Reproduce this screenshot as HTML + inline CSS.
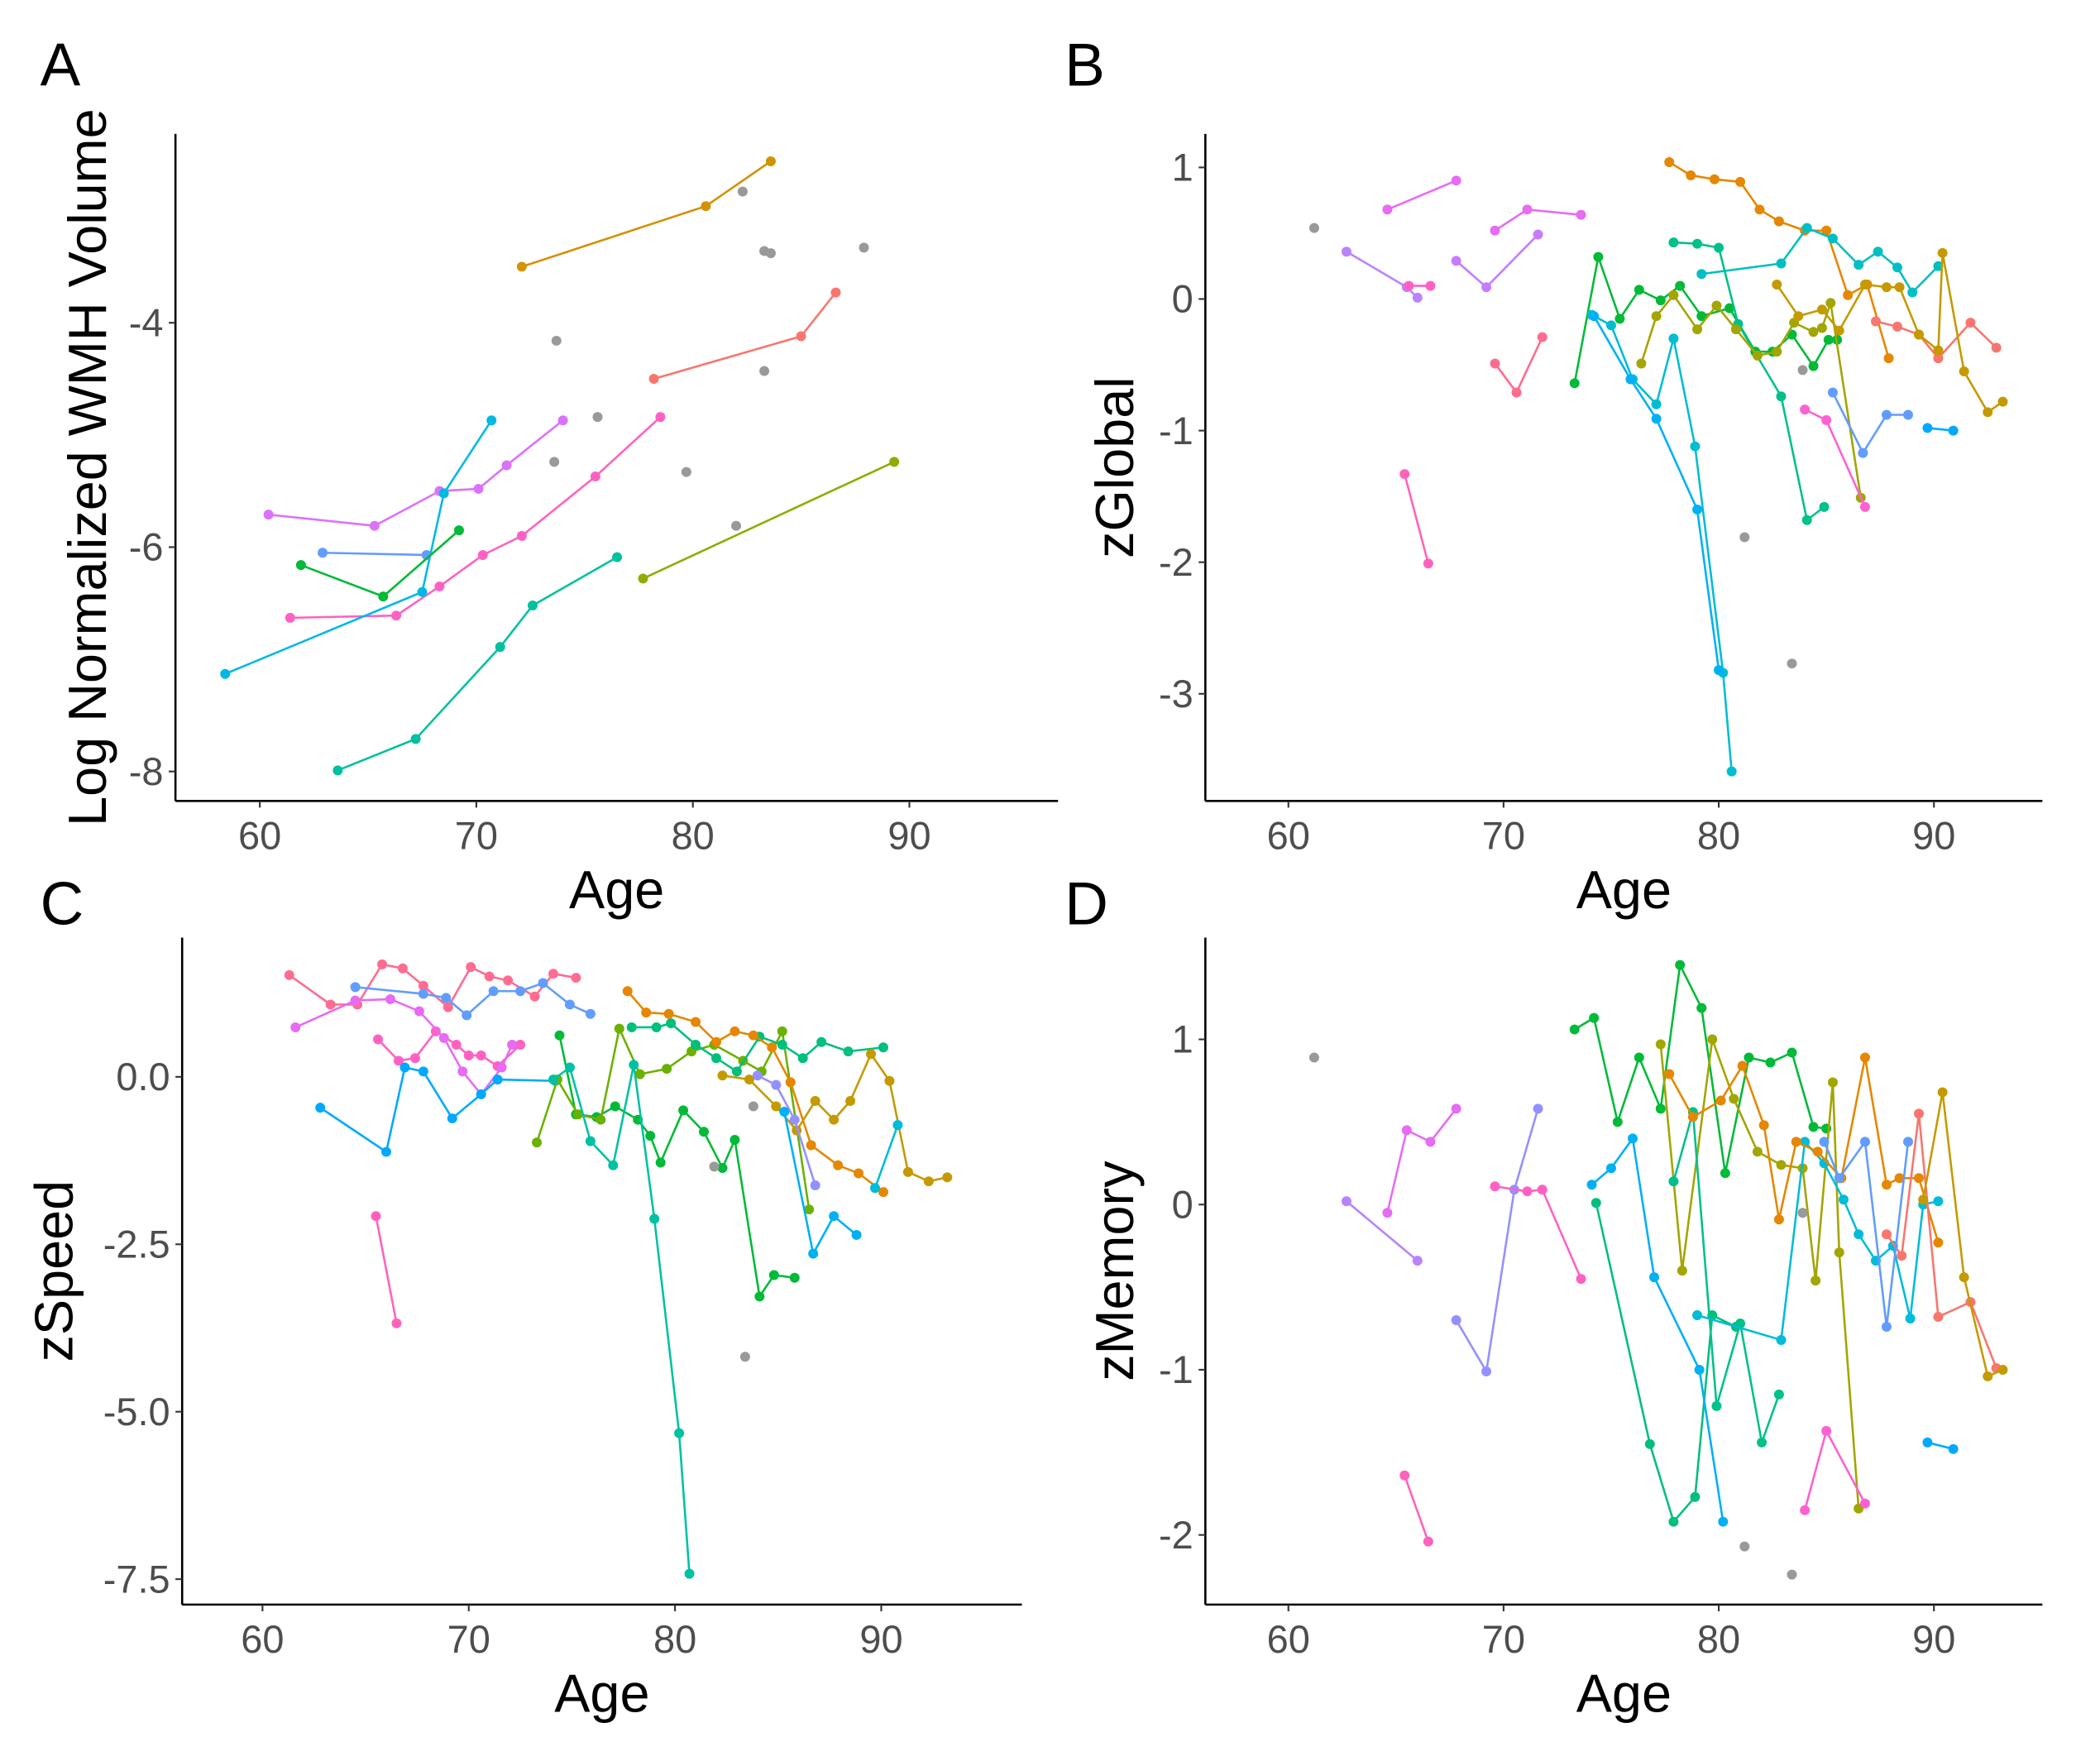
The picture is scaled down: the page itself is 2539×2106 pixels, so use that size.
<!DOCTYPE html>
<html><head><meta charset="utf-8"><style>
html,body{margin:0;padding:0;background:#fff;}
svg{display:block;font-family:"Liberation Sans",Arial,sans-serif;}
</style></head><body>
<svg id="fig" width="2539" height="2106" viewBox="0 0 1568 1300.6" preserveAspectRatio="none" xmlns="http://www.w3.org/2000/svg"></svg>
<script>
// ---------- Data ----------
// Panel A: Log Normalized WMH Volume
const aAges = [[72.1,80.6,83.6],[78.2,85.0,86.6],[77.7,89.3],[61.4,66.3,68.3,70.3,72.1,75.5,78.5],[60.4,65.3,68.3,70.1,71.4,74.0],[58.4,67.5,68.5,70.7],[62.9,67.7],[61.9,65.7,69.2],[63.6,67.2,71.1,72.6,76.5]];
const aVals = [[-3.5,-2.96,-2.56],[-4.5,-4.12,-3.73],[-6.28,-5.24],[-6.63,-6.61,-6.35,-6.07,-5.9,-5.37,-4.84],[-5.71,-5.81,-5.5,-5.48,-5.27,-4.87],[-7.13,-6.4,-5.52,-4.87],[-6.05,-6.07],[-6.16,-6.44,-5.85],[-7.99,-7.71,-6.89,-6.52,-6.09]];
const aCols = ["#D39200","#F8766D","#93AA00","#FF61C3","#DB72FB","#00B9E3","#619CFF","#00BA38","#00C19F"];
const aGreyAges = [82.3,83.3,83.6,87.9,73.7,75.6,73.6,83.3,79.7,82.0];
const aGreyVals = [-2.83,-3.36,-3.38,-3.33,-4.16,-4.84,-5.24,-4.43,-5.33,-5.81];

// Panel B: zGlobal
const bAges = [[64.6,67.8],[62.7,65.5,66.0],[65.6,66.6],[67.8,69.2,71.6],[69.6,71.1,73.6],[69.6,70.6,71.8],[65.4,66.5],
 [77.7,78.7,79.8,81.0,81.9,82.8,84.0,85.0,86.0,86.9,87.9],
 [79.2,82.9,84.1,85.3,86.5,87.4,88.3,89.0,90.2],
 [73.3,74.4,75.4,76.3,77.3,78.2,79.2,80.5,81.7,82.5,83.4,84.4,85.1,85.5],
 [77.9,79.0,80.0,80.9,82.9,84.1,84.9],
 [74.1,75.0,76.0,77.1,77.9,78.9,80.2,80.6],
 [74.2,75.9,77.1,79.0,80.0],
 [76.4,77.1,77.9,79.0,79.9,80.8,81.8,82.7,83.5,84.4,84.8,85.2,86.6],
 [85.3,86.7,87.8,88.8],[89.7,90.9],[84.0,85.0,86.8],
 [87.3,88.3,89.3,90.2,91.7,92.9],
 [82.7,83.7,84.8,85.6,86.8,87.8,88.4,89.3,90.2,90.4,91.4,92.5,93.2]];
const bVals = [[0.68,0.9],[0.36,0.09,0.01],[0.1,0.1],[0.29,0.09,0.49],[0.52,0.68,0.64],[-0.49,-0.71,-0.29],[-1.33,-2.01],
 [1.04,0.94,0.91,0.89,0.68,0.59,0.52,0.52,0.03,0.11,-0.45],
 [0.19,0.27,0.54,0.46,0.26,0.36,0.24,0.05,0.25],
 [-0.64,0.32,-0.15,0.07,-0.01,0.1,-0.13,-0.07,-0.4,-0.4,-0.27,-0.51,-0.31,-0.31],
 [0.43,0.42,0.39,-0.19,-0.74,-1.68,-1.58],
 [-0.12,-0.2,-0.61,-0.8,-0.3,-1.12,-2.84,-3.59],
 [-0.13,-0.61,-0.91,-1.6,-2.82],
 [-0.49,-0.13,0.03,-0.23,-0.05,-0.23,-0.43,-0.4,-0.18,-0.25,-0.22,-0.03,-1.51],
 [-0.71,-1.17,-0.88,-0.88],[-0.98,-1.0],[-0.84,-0.92,-1.58],
 [-0.17,-0.21,-0.27,-0.45,-0.18,-0.37],
 [0.11,-0.13,-0.08,-0.24,0.11,0.09,0.09,-0.27,-0.39,0.35,-0.55,-0.86,-0.78]];
const bCols = ["#E76BF3","#B983FF","#FF61C3","#C77CFF","#E76BF3","#FF6C91","#FF62BC","#E58700","#00BFC4","#00BA38","#00C08B","#00BDD0","#00B0F6","#A3A500","#619CFF","#00A9FF","#FD61D1","#F8766D","#C49A00"];
const bGreyAges = [61.2,81.2,83.4,83.9];
const bGreyVals = [0.54,-1.81,-2.77,-0.54];

// Panel C: zSpeed
const cAges = [[61.3,63.3,64.6,65.8,66.8,67.8,69.0,70.1,71.0,71.9,73.2,74.1,75.2],
 [65.6,66.6,67.4,68.4,69.4,70.0,70.6,71.4,72.5],
 [61.6,64.5,66.2,67.6,68.8,69.7,70.6,71.6,72.1],
 [64.5,67.8,68.9,69.9,71.2,72.5,73.6,74.9,75.9],
 [62.8,66.0,66.9,67.8,69.2,70.6,71.4,74.2],
 [65.5,66.5],
 [74.4,75.2,76.2,77.1,78.2,78.8,79.3,80.4,81.4,82.3,82.9,84.1,84.8,85.8],
 [73.3,74.3,75.3,76.4,77.3,78.3,79.6,80.8,81.9,83.3,84.2,85.2,86.5],
 [77.9,79.1,79.8,81.0,82.0,83.0,84.1,85.2,86.2,87.1,88.4,90.1],
 [74.1,74.9,75.9,77.0,78.0,79.0,80.2,80.7],
 [77.7,78.6,79.7,81.0,82.0,82.9,83.8,84.7,85.6,86.6,87.9,88.9,90.1],
 [82.3,83.6,84.9,85.9,86.8,87.7,88.5,89.5,90.4,91.3,92.3,93.2],
 [84.0,84.9,85.8,86.8],
 [85.3,86.7,87.7,88.8],
 [89.7,90.8]];
const cVals = [[1.52,1.08,1.08,1.68,1.62,1.36,1.04,1.64,1.5,1.44,1.2,1.54,1.48],
 [0.56,0.24,0.28,0.68,0.48,0.32,0.32,0.16,0.48],
 [0.74,1.14,1.16,0.98,0.58,0.08,-0.26,0.14,0.48],
 [1.34,1.24,1.18,0.92,1.28,1.28,1.4,1.08,0.94],
 [-0.46,-1.12,0.14,0.08,-0.62,-0.26,-0.04,-0.06],
 [-2.08,-3.68],
 [0.62,-0.56,-0.6,-0.44,-0.64,-0.88,-1.28,-0.5,-0.82,-1.36,-0.94,-3.28,-2.96,-3.0],
 [-0.98,-0.04,-0.56,-0.64,0.72,0.04,0.12,0.38,0.48,0.24,0.08,0.68,-1.98],
 [0.74,0.74,0.8,0.48,0.28,0.08,0.6,0.48,0.28,0.52,0.38,0.44],
 [-0.04,0.14,-0.96,-1.32,0.18,-2.12,-5.32,-7.42],
 [1.28,0.96,0.94,0.82,0.52,0.68,0.62,0.44,-0.08,-1.02,-1.32,-1.44,-1.72],
 [0.02,-0.04,-0.44,-0.8,-0.36,-0.64,-0.36,0.34,-0.06,-1.42,-1.56,-1.5],
 [0.02,-0.12,-0.64,-1.62],
 [-0.52,-2.64,-2.08,-2.36],
 [-1.66,-0.72]];
const cCols = ["#FF6C91","#FF61C3","#E76BF3","#619CFF","#00A9FF","#FF62BC","#00BA38","#6BB100","#00BF7D","#00C1A3","#E58700","#C49A00","#9590FF","#00B0F6","#00BCD8"];
const cGreyAges = [81.9,83.4,83.8];
const cGreyVals = [-1.34,-4.18,-0.44];

// Panel D: zMemory
const dAges = [[62.7,66.0],[64.6,65.5,66.6,67.8],[67.8,69.2,70.5,71.6],[69.6,71.1,71.8,73.6],[65.4,66.5],
 [73.3,74.2,75.3,76.3,77.3,78.2,79.2,80.3,81.4,82.4,83.4,84.4,85.0],
 [77.3,78.3,79.7,80.7,81.8,82.9,83.9,84.5,85.3,85.6,86.5],
 [74.3,76.8,77.9,78.9,79.7,80.8],
 [77.9,78.8,79.9,81.0,82.0,82.8],
 [74.1,75.0,76.0,77.0,79.1,80.2],
 [79.0,82.9,84.0,84.9,85.8,86.5,87.3,88.1,88.9,89.5,90.2],
 [77.7,78.8,80.1,81.1,82.1,82.8,83.6,84.6,85.7,86.8,87.8,88.4,89.3,90.2],
 [87.8,88.5,89.3,90.2,91.7,92.9],
 [89.5,90.4,91.4,92.5,93.2],
 [84.9,85.6,86.8,87.8,88.8],
 [89.7,90.9],
 [84.0,85.0,86.8]];
const dVals = [[0.02,-0.34],[-0.05,0.45,0.38,0.58],[-0.7,-1.01,0.09,0.58],[0.11,0.08,0.09,-0.45],[-1.64,-2.04],
 [1.06,1.13,0.5,0.89,0.58,1.45,1.19,0.19,0.89,0.86,0.92,0.47,0.46],
 [0.97,-0.4,1.0,0.64,0.32,0.24,0.22,-0.46,0.74,-0.29,-1.84],
 [0.01,-1.45,-1.92,-1.77,-0.67,-0.74],
 [0.14,0.56,-1.22,-0.72,-1.44,-1.15],
 [0.12,0.22,0.4,-0.44,-1.0,-1.92],
 [-0.67,-0.82,0.38,0.25,0.03,-0.18,-0.34,-0.25,-0.69,0.0,0.02],
 [0.79,0.53,0.63,0.84,0.48,-0.09,0.38,0.32,0.16,0.89,0.12,0.16,0.16,-0.23],
 [-0.18,-0.31,0.55,-0.68,-0.59,-0.99],
 [0.03,0.68,-0.44,-1.04,-1.0],
 [0.38,0.16,0.38,-0.74,0.38],
 [-1.44,-1.48],
 [-1.85,-1.37,-1.81]];
const dCols = ["#B983FF","#E76BF3","#9590FF","#FF61C3","#FF62BC","#00BA38","#A3A500","#00BF7D","#00C08B","#00B0F6","#00BCD8","#E58700","#F8766D","#C49A00","#619CFF","#00A9FF","#FD61D1"];
const dGreyAges = [61.2,81.2,83.4,83.9];
const dGreyVals = [0.89,-2.07,-2.24,-0.05];

const xTicks = [60,70,80,90];
const aYTicks = [-8,-6,-4];
const bYTicks = [-3,-2,-1,0,1];
const cYTicks = [-7.5,-5.0,-2.5,0.0];
const dYTicks = [-2,-1,0,1];

// ---------- Drawing ----------
const NS = "http://www.w3.org/2000/svg";
const svg = document.getElementById('fig');
function mk(tag, attrs, parent){const e=document.createElementNS(NS,tag);for(const k in attrs)e.setAttribute(k,attrs[k]);(parent||svg).appendChild(e);return e;}
function lin(d0,d1,r0,r1){return v=>r0+(v-d0)*(r1-r0)/(d1-d0);}

function panel(cfg){
  const g = mk('g',{});
  
  
  const xs = lin(60,90,cfg.x60,cfg.x90);
  const ys = lin(cfg.yv0,cfg.yv1,cfg.yp0,cfg.yp1);
  const ya = mk('line',{x1:cfg.left,y1:cfg.top,x2:cfg.left,y2:cfg.bottom,stroke:'#000','stroke-width':1.6},g);
  
  
  const xa = mk('line',{x1:cfg.left,y1:cfg.bottom,x2:cfg.right,y2:cfg.bottom,stroke:'#000','stroke-width':1.6},g);
  
  
  xTicks.forEach(t=>{
    const x=xs(t);
    mk('line',{x1:x,y1:cfg.bottom,x2:x,y2:cfg.bottom+5,stroke:'#333','stroke-width':1.3},g);
    const tx=mk('text',{x:x,y:cfg.bottom+36,'text-anchor':'middle','font-size':29,fill:'#4D4D4D'},g);
    tx.textContent=t;
    
    
  });
  cfg.yTicks.forEach(t=>{
    const y=ys(t);
    mk('line',{x1:cfg.left-5,y1:y,x2:cfg.left,y2:y,stroke:'#333','stroke-width':1.3},g);
    const tx=mk('text',{x:cfg.left-9,y:y+10,'text-anchor':'end','font-size':29,fill:'#4D4D4D'},g);
    tx.textContent=cfg.fmt?cfg.fmt(t):String(t);
    
    
  });
  cfg.ages.forEach((arr,i)=>{
    const col=cfg.cols[i];
    const pts=arr.map((a,j)=>xs(a)+','+ys(cfg.vals[i][j])).join(' ');
    const pl=mk('polyline',{points:pts,fill:'none',stroke:col,'stroke-width':1.6},g);
    
    
    arr.forEach((a,j)=>{
      const c=mk('circle',{cx:xs(a),cy:ys(cfg.vals[i][j]),r:3.7,fill:col},g);
      
      
    });
  });
  cfg.gAges.forEach((a,j)=>{
    const c=mk('circle',{cx:xs(a),cy:ys(cfg.gVals[j]),r:3.7,fill:'#999999'},g);
    
    
  });
  const xt=mk('text',{x:(cfg.left+cfg.right)/2,y:cfg.bottom+80,'text-anchor':'middle','font-size':40,fill:'#000'},g);
  xt.textContent='Age';
  
  
  const yt=mk('text',{x:0,y:0,'text-anchor':'middle','font-size':40,fill:'#000',transform:`translate(${cfg.ytX},${(cfg.top+cfg.bottom)/2}) rotate(-90)`},g);
  yt.textContent=cfg.ytitle;
  
  
  const lt=mk('text',{x:cfg.letX,y:cfg.letY,'font-size':45,fill:'#000'},g);
  lt.textContent=cfg.letter;
  
  
}

panel({name:'panel-a-wmh',letter:'A',letX:30,letY:64,left:131,right:790,top:100,bottom:598,x60:194,x90:679,yv0:-4,yv1:-8,yp0:241,yp1:576,yTicks:aYTicks,ages:aAges,vals:aVals,cols:aCols,gAges:aGreyAges,gVals:aGreyVals,ytitle:'Log Normalized WMH Volume',ytX:79});
panel({name:'panel-b-zglobal',letter:'B',letX:795,letY:64,left:900,right:1525,top:100,bottom:598,x60:962,x90:1444,yv0:1,yv1:-3,yp0:125,yp1:518,yTicks:bYTicks,ages:bAges,vals:bVals,cols:bCols,gAges:bGreyAges,gVals:bGreyVals,ytitle:'zGlobal',ytX:846});
panel({name:'panel-c-zspeed',letter:'C',letX:30,letY:690,left:136,right:763,top:700,bottom:1198,x60:196,x90:658,yv0:0,yv1:-7.5,yp0:804,yp1:1179,yTicks:cYTicks,fmt:t=>t.toFixed(1),ages:cAges,vals:cVals,cols:cCols,gAges:cGreyAges,gVals:cGreyVals,ytitle:'zSpeed',ytX:54});
panel({name:'panel-d-zmemory',letter:'D',letX:795,letY:690,left:900,right:1525,top:700,bottom:1198,x60:962,x90:1444,yv0:1,yv1:-2,yp0:776,yp1:1146,yTicks:dYTicks,ages:dAges,vals:dVals,cols:dCols,gAges:dGreyAges,gVals:dGreyVals,ytitle:'zMemory',ytX:846});
</script>
</body></html>
